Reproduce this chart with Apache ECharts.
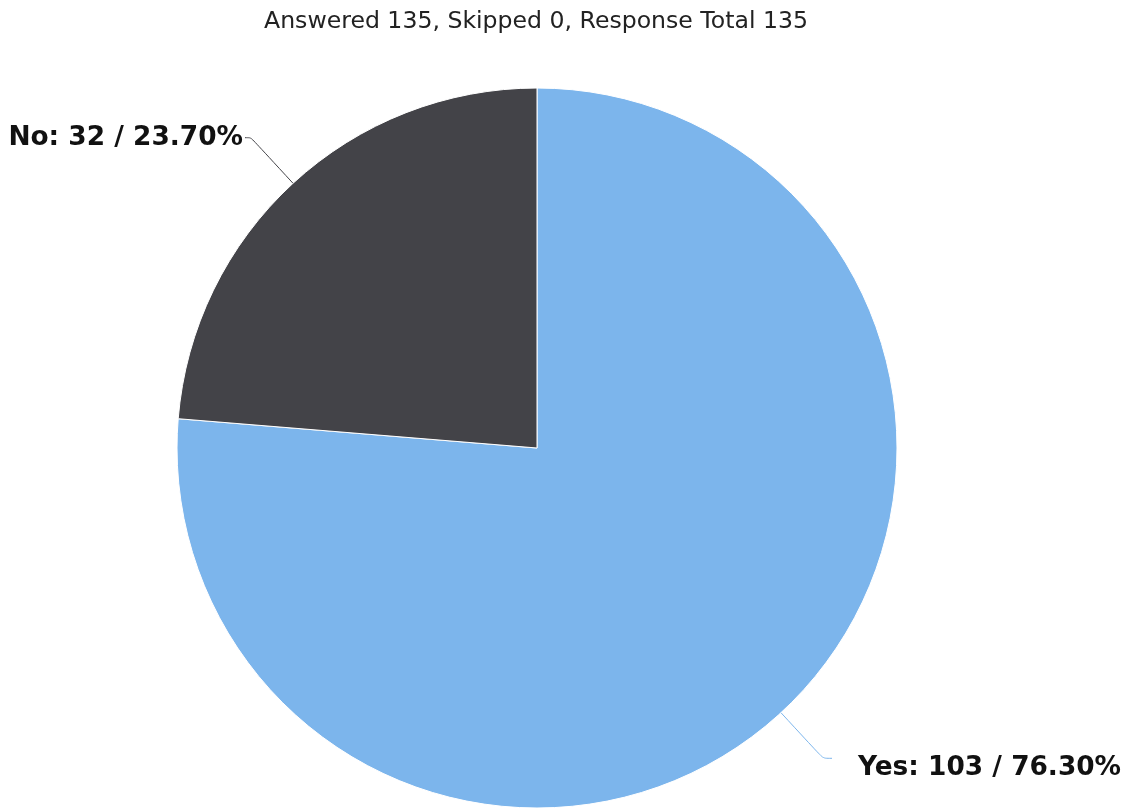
<!DOCTYPE html>
<html><head><meta charset="utf-8">
<script src="https://cdn.jsdelivr.net/npm/echarts@6/dist/echarts.min.js"></script>
<style>html,body{margin:0;padding:0;background:#fff}#c{width:1127px;height:810px}</style>
</head><body><div id="c"></div>
<script>
var categories = ['Yes', 'No'];
var values = [103, 32];
var colors = ['#7cb5ec', '#434348'];
var titleText = 'Answered 135, Skipped 0, Response Total 135';

var total = values.reduce(function(a,b){return a+b;},0);
var labelPads = [[0, 0, 0, 24], [0, 0, 0, 0]];
var labelLen2 = [9, 6];
var labelDy = [10, 0];
var chart = echarts.init(document.getElementById('c'));
chart.setOption({
  animation: false,
  title: {
    text: titleText, left: 259, top: 5,
    textStyle: {fontFamily: 'DejaVu Sans', fontSize: 23.6, fontWeight: 'normal', color: '#222'}
  },
  series: [{
    type: 'pie',
    center: [537, 448],
    radius: 360,
    startAngle: 90,
    clockwise: true,
    avoidLabelOverlap: false,
    itemStyle: {borderColor: '#fff', borderWidth: 1},
    label: {
      show: true, position: 'outside', distanceToLabelLine: 2,
      fontFamily: 'DejaVu Sans', fontWeight: 'bold', fontSize: 26.4, color: '#111',
      formatter: function(p){ return p.name + ': ' + p.value + ' / ' + (p.value/total*100).toFixed(2) + '%'; }
    },
    labelLine: {show: true, length: 62, length2: 9, smooth: 0.25, lineStyle: {width: 1}},
    labelLayout: function(p){ return {dy: labelDy[p.dataIndex]}; },
    data: categories.map(function(c,i){
      return {name: c, value: values[i], itemStyle: {color: colors[i]},
              label: {padding: labelPads[i]}, labelLine: {length2: labelLen2[i]}};
    })
  }]
});
</script></body></html>
